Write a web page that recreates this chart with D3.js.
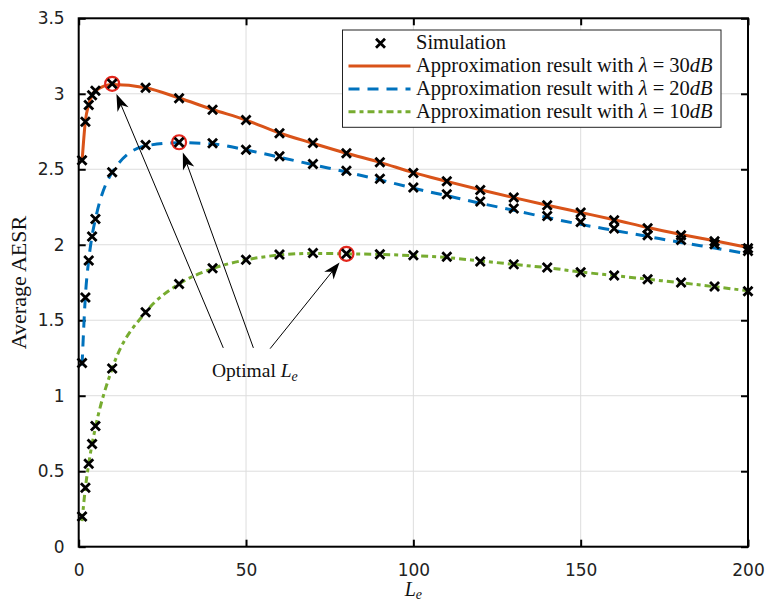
<!DOCTYPE html>
<html>
<head>
<meta charset="utf-8">
<script src="https://cdn.jsdelivr.net/npm/d3@7"></script>
<style>
body { margin: 0; background: #fff; }
.tick-label { font-family: 'DejaVu Sans', sans-serif; font-size: 17px; fill: #222; }
.serif { font-family: 'Liberation Serif', serif; fill: #111; }
</style>
</head>
<body>
<svg id="chart" width="769" height="605"></svg>
<script>
// x positions (L_e) shared by all series
let xs = [1, 2, 3, 4, 5, 10, 20, 30, 40, 50, 60, 70, 80, 90, 100, 110, 120, 130, 140, 150, 160, 170, 180, 190, 200]

// simulation markers
let sim30 = [2.56, 2.815, 2.925, 2.99, 3.02, 3.066, 3.04, 2.971, 2.895, 2.827, 2.738, 2.674, 2.606, 2.546, 2.475, 2.42, 2.362, 2.313, 2.262, 2.214, 2.163, 2.11, 2.063, 2.023, 1.977]
let sim20 = [1.217, 1.65, 1.896, 2.055, 2.17, 2.48, 2.661, 2.679, 2.672, 2.63, 2.586, 2.535, 2.49, 2.437, 2.38, 2.335, 2.287, 2.24, 2.19, 2.151, 2.108, 2.063, 2.032, 2.003, 1.959]
let sim10 = [0.2, 0.39, 0.55, 0.68, 0.8, 1.18, 1.553, 1.74, 1.844, 1.9, 1.935, 1.945, 1.94, 1.937, 1.93, 1.92, 1.889, 1.87, 1.849, 1.818, 1.797, 1.771, 1.75, 1.724, 1.692]

// approximation curves
let approx30 = [2.55, 2.82, 2.93, 2.99, 3.02, 3.062, 3.04, 2.972, 2.896, 2.826, 2.74, 2.672, 2.606, 2.546, 2.478, 2.42, 2.364, 2.312, 2.262, 2.214, 2.166, 2.114, 2.068, 2.026, 1.982]
let approx20 = [1.2, 1.66, 1.9, 2.06, 2.17, 2.48, 2.655, 2.676, 2.668, 2.628, 2.58, 2.53, 2.482, 2.43, 2.375, 2.325, 2.275, 2.228, 2.18, 2.135, 2.095, 2.055, 2.015, 1.978, 1.94]
let approx10 = [0.17, 0.39, 0.55, 0.68, 0.79, 1.18, 1.553, 1.74, 1.842, 1.9, 1.932, 1.943, 1.94, 1.936, 1.928, 1.915, 1.893, 1.87, 1.848, 1.82, 1.796, 1.772, 1.748, 1.722, 1.695]

let optimalLe = [10, 30, 80]
let lambdas = ['30', '20', '10']
let colors = ['#D95319', '#0072BD', '#77AC30']
let dashes = [null, '11,8', '7,4,4,4']

let xTicks = [0, 50, 100, 150, 200]
let yTicks = [0, 0.5, 1, 1.5, 2, 2.5, 3, 3.5]

// annotation anchor (data units)
let noteAt = [39.8, 1.122]
let arrowTails = [[43.2, 1.317], [52.2, 1.317], [57.2, 1.312]]

let margin = { left: 78.7, right: 21, top: 18.3, bottom: 58.3 }
let width = 769, height = 605

let x = d3.scaleLinear().domain([0, 200]).range([margin.left, width - margin.right])
let y = d3.scaleLinear().domain([0, 3.5]).range([height - margin.bottom, margin.top])

let svg = d3.select('#chart')

// grid
svg.append('g')
	.selectAll('line')
	.data(xTicks.slice(1, -1))
	.enter()
	.append('line')
	.attr('x1', d => x(d)).attr('x2', d => x(d))
	.attr('y1', y(0)).attr('y2', y(3.5))
	.attr('stroke', '#dddddd').attr('stroke-width', 1)

svg.append('g')
	.selectAll('line')
	.data(yTicks.slice(1, -1))
	.enter()
	.append('line')
	.attr('y1', d => y(d)).attr('y2', d => y(d))
	.attr('x1', x(0)).attr('x2', x(200))
	.attr('stroke', '#dddddd').attr('stroke-width', 1)

// axes (inward ticks, box)
let axisStyle = g => {
	g.select('.domain').remove()
	g.selectAll('.tick line').attr('stroke', '#000').attr('stroke-width', 2)
	g.selectAll('.tick text').attr('class', 'tick-label')
}

svg.append('g')
	.attr('transform', `translate(0,${y(0)})`)
	.call(d3.axisBottom(x).tickValues(xTicks).tickSize(-7).tickPadding(17).tickFormat(d3.format('d')))
	.call(axisStyle)

svg.append('g')
	.attr('transform', `translate(${x(0)},0)`)
	.call(d3.axisLeft(y).tickValues(yTicks).tickSize(-7).tickPadding(14).tickFormat(d => d))
	.call(axisStyle)

svg.append('g')
	.attr('transform', `translate(0,${y(3.5)})`)
	.call(d3.axisTop(x).tickValues(xTicks).tickSize(-7).tickFormat(''))
	.call(axisStyle)

svg.append('g')
	.attr('transform', `translate(${x(200)},0)`)
	.call(d3.axisRight(y).tickValues(yTicks).tickSize(-7).tickFormat(''))
	.call(axisStyle)

svg.append('rect')
	.attr('x', x(0)).attr('y', y(3.5))
	.attr('width', x(200) - x(0)).attr('height', y(0) - y(3.5))
	.attr('fill', 'none').attr('stroke', '#000').attr('stroke-width', 2)

// approximation lines
let line = d3.line()
	.x((d, i) => x(xs[i]))
	.y(d => y(d))
	.curve(d3.curveMonotoneX)

let approx = [approx30, approx20, approx10]
let sims = [sim30, sim20, sim10]

approx.forEach((a, k) => {
	svg.append('path')
		.attr('d', line(a))
		.attr('fill', 'none')
		.attr('stroke', colors[k])
		.attr('stroke-width', 3)
		.attr('stroke-dasharray', dashes[k])
})

// optimal points
optimalLe.forEach((o, k) => {
	let i = xs.indexOf(o)
	svg.append('circle')
		.attr('cx', x(o)).attr('cy', y(sims[k][i]))
		.attr('r', 7)
		.attr('fill', 'none')
		.attr('stroke', '#e3261c')
		.attr('stroke-width', 2.2)
})

// simulation markers
let cross = (g, cx, cy, s) => {
	g.append('path')
		.attr('d', `M${cx - s},${cy - s}L${cx + s},${cy + s}M${cx - s},${cy + s}L${cx + s},${cy - s}`)
		.attr('stroke', '#000')
		.attr('stroke-width', 2.8)
}

let markers = svg.append('g')
sims.forEach(s => {
	s.forEach((v, i) => cross(markers, x(xs[i]), y(v), 4.5))
})

// annotation arrows
optimalLe.forEach((o, k) => {
	let i = xs.indexOf(o)
	let cx = x(o), cy = y(sims[k][i])
	let tx = x(arrowTails[k][0]), ty = y(arrowTails[k][1])
	let dx = tx - cx, dy = ty - cy
	let len = Math.sqrt(dx * dx + dy * dy)
	let ux = dx / len, uy = dy / len
	let px = cx + ux * 11, py = cy + uy * 11
	let nx = -uy, ny = ux
	let L = 17, w = 6
	svg.append('line')
		.attr('x1', tx).attr('y1', ty)
		.attr('x2', px + ux * 10).attr('y2', py + uy * 10)
		.attr('stroke', '#000').attr('stroke-width', 1)
	svg.append('path')
		.attr('d', `M${px},${py}L${px + ux * L + nx * w},${py + uy * L + ny * w}L${px + ux * (L - 5)},${py + uy * (L - 5)}L${px + ux * L - nx * w},${py + uy * L - ny * w}Z`)
		.attr('fill', '#000')
})

let note = svg.append('text')
	.attr('class', 'serif')
	.attr('x', x(noteAt[0])).attr('y', y(noteAt[1]))
	.style('font-size', '19.5px')
note.append('tspan').text('Optimal ')
note.append('tspan').style('font-style', 'italic').text('L')
note.append('tspan').style('font-style', 'italic').style('font-size', '14px').attr('dy', 4).text('e')

// axis labels
let xl = svg.append('text')
	.attr('class', 'serif')
	.attr('x', x(100)).attr('y', 596)
	.attr('text-anchor', 'middle')
	.style('font-size', '20px')
xl.append('tspan').style('font-style', 'italic').text('L')
xl.append('tspan').style('font-style', 'italic').style('font-size', '14px').attr('dy', 3).text('e')

svg.append('text')
	.attr('class', 'serif')
	.attr('transform', `translate(26,${y(1.75)}) rotate(-90)`)
	.attr('text-anchor', 'middle')
	.style('font-size', '22px')
	.text('Average AESR')

// legend
let legend = svg.append('g').attr('transform', 'translate(342.5,30)')
legend.append('rect')
	.attr('width', 378.5).attr('height', 97.3)
	.attr('fill', '#fff').attr('stroke', '#222').attr('stroke-width', 1)

let rowY = i => 13.3 + i * 22.8

cross(legend, 38, rowY(0), 4.5)
legend.append('text')
	.attr('class', 'serif')
	.attr('x', 73.5).attr('y', rowY(0) + 6)
	.style('font-size', '20.5px')
	.text('Simulation')

lambdas.forEach((l, k) => {
	let ry = rowY(k + 1)
	legend.append('line')
		.attr('x1', 6).attr('x2', 68)
		.attr('y1', ry).attr('y2', ry)
		.attr('stroke', colors[k])
		.attr('stroke-width', 3)
		.attr('stroke-dasharray', dashes[k])
	let t = legend.append('text')
		.attr('class', 'serif')
		.attr('x', 73.5).attr('y', ry + 6)
		.style('font-size', '20.5px')
	t.append('tspan').text('Approximation result with ')
	t.append('tspan').style('font-style', 'italic').text('λ')
	t.append('tspan').text(' = ' + l)
	t.append('tspan').style('font-style', 'italic').text('dB')
})
</script>
</body>
</html>
